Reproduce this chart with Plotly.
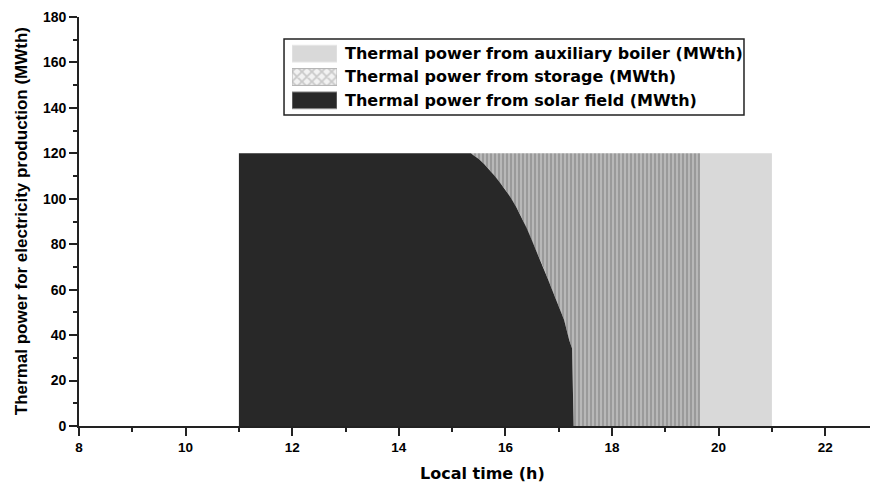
import plotly.graph_objects as go

# Thermal power sent to the power block (MWth) vs local time (h)
time_h = [11.0, 15.35, 15.4, 15.5, 15.6, 15.7, 15.8, 15.9, 16.0, 16.1, 16.2,
          16.3, 16.4, 16.5, 16.6, 16.7, 16.8, 16.9, 17.0, 17.1, 17.2, 17.25, 17.28]
solar_mwth = [120, 120, 119.2, 117.5, 115.3, 112.8, 110, 107, 104, 100.5, 96.5,
              92, 87, 81.5, 76, 70.5, 64.5, 58.5, 52.5, 46.8, 37.5, 34.2, 0]
nominal_mwth = 120
storage_end_h = 19.65
boiler_end_h = 21.0

x_ticks = [8, 10, 12, 14, 16, 18, 20, 22]
y_ticks = [0, 20, 40, 60, 80, 100, 120, 140, 160, 180]

legend_labels = ["Thermal power from auxiliary boiler (MWth)",
                 "Thermal power from storage (MWth)",
                 "Thermal power from solar field (MWth)"]
x_title = "Local time (h)"
y_title = "Thermal power for electricity production (MWth)"

FONT = "Liberation Sans"
WIDE = "DejaVu Sans"
BLACK = "#282828"
GREY = "#d9d9d9"
MID = "#9a9a9a"
INK = "#222222"
STORAGE_PATTERN = dict(shape="|", fgcolor="white", bgcolor=MID, size=4, solidity=0.3)

fig = go.Figure()

# auxiliary boiler block after the storage is exhausted
fig.add_trace(go.Scatter(
    x=[storage_end_h, boiler_end_h, boiler_end_h, storage_end_h],
    y=[nominal_mwth, nominal_mwth, 0, 0],
    fill="toself", fillcolor=GREY, mode="lines", line=dict(width=0, color=GREY),
    hoverinfo="skip", showlegend=False,
))

# storage band: from the solar curve up to nominal power, until storage_end_h
sto_x = [time_h[0], storage_end_h, storage_end_h] + time_h[::-1]
sto_y = [nominal_mwth, nominal_mwth, 0] + solar_mwth[::-1]
fig.add_trace(go.Scatter(
    x=sto_x, y=sto_y,
    fill="toself", mode="lines", line=dict(width=0, color=MID),
    fillpattern=STORAGE_PATTERN, hoverinfo="skip", showlegend=False,
))

# solar field contribution
fig.add_trace(go.Scatter(
    x=time_h, y=solar_mwth,
    fill="tozeroy", fillcolor=BLACK, mode="lines",
    line=dict(width=0, color=BLACK),
    hoverinfo="skip", showlegend=False,
))

# key: swatches drawn on a small hidden axis pair, labels as annotations
swatch_fills = [dict(fillcolor=GREY, line_color="#e6e6e6"),
                dict(fillpattern=dict(shape="x", fgcolor="#a0a0a0", bgcolor="#f2f2f2",
                                      size=7, solidity=0.45), line_color="#b0b0b0"),
                dict(fillcolor=BLACK, line_color="#8c8c8c")]
n_rows = len(legend_labels)
for i, (label, style) in enumerate(zip(legend_labels, swatch_fills)):
    row = n_rows - 1 - i
    lo, hi = row + 0.14, row + 0.86
    fig.add_trace(go.Scatter(
        x=[0, 1, 1, 0, 0], y=[lo, lo, hi, hi, lo],
        xaxis="x2", yaxis="y2", mode="lines", fill="toself",
        line=dict(width=1, color=style.pop("line_color")),
        hoverinfo="skip", showlegend=False, **style,
    ))
    fig.add_annotation(
        x=0.3335, xref="paper", y=row + 0.5, yref="y2",
        text=label, showarrow=False, xanchor="left", yanchor="middle",
        font=dict(family=WIDE, size=16, color="black", weight="bold"),
    )

fig.add_shape(type="rect", xref="paper", yref="paper",
              x0=0.2592, x1=0.8407, y0=0.7604, y1=0.9462,
              line=dict(color=INK, width=1.5), fillcolor="rgba(0,0,0,0)")

# axis titles
fig.add_annotation(
    x=0.5095, xref="paper", y=-0.117, yref="paper", text=x_title,
    showarrow=False, xanchor="center", yanchor="middle",
    font=dict(family=WIDE, size=16, color="black", weight="bold"),
)
fig.add_annotation(
    x=-0.0725, xref="paper", y=0.5, yref="paper", text=y_title, textangle=-90,
    showarrow=False, xanchor="center", yanchor="middle",
    font=dict(family=FONT, size=17, color="black", weight="bold"),
)

axis_common = dict(
    showgrid=False, zeroline=False, showline=True, linecolor=INK, linewidth=1.6,
    ticks="outside", ticklen=8, tickwidth=1.5, tickcolor=INK,
    mirror=False,
)
minor_common = dict(ticks="outside", ticklen=4, tickwidth=1.5, tickcolor=INK)

fig.update_layout(
    width=872, height=486,
    margin=dict(l=79, r=2, t=17, b=60),
    paper_bgcolor="white", plot_bgcolor="white",
    showlegend=False,
    xaxis=dict(
        range=[8, 22.84], tickvals=x_ticks,
        minor=dict(dtick=1, **minor_common),
        tickfont=dict(family=FONT, size=13.5, color="black", weight="bold"),
        **axis_common,
    ),
    yaxis=dict(
        range=[0, 180], tickvals=y_ticks,
        minor=dict(dtick=10, **minor_common),
        tickfont=dict(family=FONT, size=14, color="black", weight="bold"),
        **axis_common,
    ),
    xaxis2=dict(domain=[0.2693, 0.3262], range=[0, 1], anchor="y2",
                visible=False, fixedrange=True),
    yaxis2=dict(domain=[0.7677, 0.9389], range=[0, n_rows], anchor="x2",
                visible=False, fixedrange=True),
)

fig.write_html("out.html")
